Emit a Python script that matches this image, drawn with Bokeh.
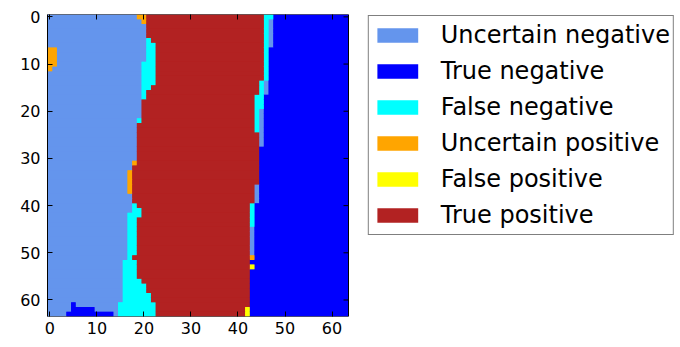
import numpy as np
from bokeh.plotting import figure
from bokeh.models import (Range1d, FixedTicker, LinearAxis, Legend, LegendItem,
                          ColumnDataSource, LinearColorMapper)
from bokeh.embed import file_html
from bokeh.resources import INLINE

# ---- classes (legend order) ----
class_codes = ["UN", "TN", "FN", "UP", "FP", "TP"]
class_names = ["Uncertain negative", "True negative", "False negative",
               "Uncertain positive", "False positive", "True positive"]
class_colors = ["#6495ED", "#0000FF", "#00FFFF", "#FFA500", "#FFFF00", "#B22222"]

n_rows = 64
n_cols = 64
ticks = [0, 10, 20, 30, 40, 50, 60]

# ---- per-row boundaries (row 0 = top) ----
# last column of the left "uncertain negative" block
left_un_end = [18, 19, 20, 20, 20, 20, 20, 20, 20, 20,
               19, 19, 19, 19, 19, 19, 19, 19, 19, 19,
               19, 19, 18, 18, 18, 18, 18, 18, 18, 18,
               18, 17, 17, 16, 16, 16, 16, 16, 17, 17,
               17, 17, 16, 16, 16, 16, 16, 16, 16, 16,
               16, 16, 15, 15, 15, 15, 15, 15, 15, 15,
               15, 14, 14, 14]
# class of the cells between that block and the true positive block
left_edge_class = ["UP", "UP", "FN", "FN", "FN", "FN", "FN", "FN", "FN", "FN",
                   "FN", "FN", "FN", "FN", "FN", "FN", "FN", "FN", "FN", "FN",
                   "FN", "FN", "FN", "FN", "FN", "FN", "FN", "FN", "FN", "FN",
                   "FN", "UP", "FN", "UP", "UP", "UP", "UP", "UP", "FN", "FN",
                   "FN", "FN", "FN", "FN", "FN", "FN", "FN", "FN", "FN", "FN",
                   "FN", "FN", "FN", "FN", "FN", "FN", "FN", "FN", "FN", "FN",
                   "FN", "FN", "FN", "FN"]
# first and last column of the true positive block
tp_start = [21, 21, 21, 21, 21, 22, 23, 23, 23, 23,
            23, 23, 23, 23, 23, 22, 21, 21, 20, 20,
            20, 20, 20, 19, 19, 19, 19, 19, 19, 19,
            19, 19, 18, 18, 18, 18, 18, 18, 18, 18,
            19, 20, 20, 19, 19, 19, 19, 19, 19, 19,
            19, 18, 19, 19, 19, 19, 20, 21, 21, 22,
            22, 23, 23, 23]
tp_end = [45, 45, 45, 45, 45, 45, 45, 45, 45, 45,
          45, 45, 45, 45, 44, 44, 44, 43, 43, 43,
          43, 43, 43, 43, 43, 44, 44, 44, 44, 44,
          44, 44, 44, 44, 44, 44, 43, 43, 43, 43,
          42, 42, 42, 42, 42, 42, 42, 42, 42, 42,
          42, 42, 42, 42, 42, 42, 42, 42, 42, 42,
          42, 42, 41, 41]
# cells of false negative, then uncertain negative, right of the TP block
right_fn = [2, 1, 1, 1, 1, 1, 1, 1, 1, 1,
            1, 1, 1, 1, 1, 1, 1, 2, 2, 2,
            1, 1, 1, 1, 1, 0, 0, 0, 0, 0,
            0, 0, 0, 0, 0, 0, 0, 0, 0, 0,
            1, 1, 1, 1, 1, 0, 0, 0, 0, 0,
            0, 0, 0, 0, 0, 0, 0, 0, 0, 0,
            0, 0, 0, 0]
right_un = [0, 1, 1, 1, 1, 1, 1, 0, 0, 0,
            0, 0, 0, 0, 1, 1, 1, 0, 0, 0,
            1, 1, 1, 1, 1, 1, 1, 1, 0, 0,
            0, 0, 0, 0, 0, 0, 1, 1, 1, 1,
            0, 0, 0, 0, 0, 1, 1, 1, 1, 1,
            1, 0, 0, 0, 0, 0, 0, 0, 0, 0,
            0, 0, 0, 0]

# isolated patches: row, first col, last col, class
spot_row = [7, 8, 9, 10, 11, 61, 62, 63, 51, 53, 62, 63]
spot_c0 = [0, 0, 0, 0, 0, 5, 5, 4, 43, 43, 42, 42]
spot_c1 = [1, 1, 1, 1, 0, 5, 9, 13, 43, 43, 42, 42]
spot_cls = ["UP", "UP", "UP", "UP", "UP", "TN", "TN", "TN", "UP", "FP", "FP", "FP"]

# ---- build the class grid ----
grid = []
for r in range(n_rows):
    cells = ["TN"] * n_cols
    for c in range(0, left_un_end[r] + 1):
        cells[c] = "UN"
    for c in range(left_un_end[r] + 1, tp_start[r]):
        cells[c] = left_edge_class[r]
    for c in range(tp_start[r], tp_end[r] + 1):
        cells[c] = "TP"
    c = tp_end[r] + 1
    for _ in range(right_fn[r]):
        cells[c] = "FN"
        c += 1
    for _ in range(right_un[r]):
        cells[c] = "UN"
        c += 1
    grid.append(cells)
for r, c0, c1, k in zip(spot_row, spot_c0, spot_c1, spot_cls):
    for c in range(c0, c1 + 1):
        grid[r][c] = k

img = np.array([[class_codes.index(k) for k in cells] for cells in grid],
               dtype=np.float64)

# run-length encode rows into quads per class (used for legend swatches too)
quads = {k: dict(left=[], right=[], top=[], bottom=[]) for k in class_codes}
for r in range(n_rows):
    c = 0
    while c < n_cols:
        k = grid[r][c]
        e = c
        while e + 1 < n_cols and grid[r][e + 1] == k:
            e += 1
        q = quads[k]
        q["left"].append(c - 0.5)
        q["right"].append(e + 0.5)
        q["top"].append(r - 0.5)
        q["bottom"].append(r + 0.5)
        c = e + 1

FONT = "DejaVu Sans"
IMG_W = 301          # pixel width of the image area
FRAME_W = 628        # frame also holds the legend to the right of the image
FRAME_H = 302
TICK_PX = 5
x_end = -0.5 + n_cols * FRAME_W / IMG_W

p = figure(output_backend="svg", toolbar_location=None,
           frame_width=FRAME_W, frame_height=FRAME_H,
           x_range=Range1d(-0.5, x_end), y_range=Range1d(n_rows - 0.5, -0.5),
           min_border_left=47, min_border_top=14, min_border_bottom=29,
           min_border_right=0)
p.grid.visible = False
p.outline_line_color = None
p.background_fill_color = "white"
p.border_fill_color = "white"

mapper = LinearColorMapper(palette=class_colors, low=-0.5, high=5.5)
p.image(image=[img], x=-0.5, y=-0.5, dw=n_cols, dh=n_rows,
        color_mapper=mapper)

renderers = []
for k, col in zip(class_codes, class_colors):
    rr = p.quad(left="left", right="right", top="top", bottom="bottom",
                source=ColumnDataSource(quads[k]),
                fill_color=col, line_color=None)
    renderers.append(rr)

# frame of the image and inward ticks on its right edge
p.quad(left=[-0.5], right=[n_cols - 0.5], top=[-0.5], bottom=[n_rows - 0.5],
       fill_color=None, line_color="black", line_width=1)
tick_units = TICK_PX * (x_end + 0.5) / FRAME_W
p.segment(x0=[n_cols - 0.5] * len(ticks), x1=[n_cols - 0.5 - tick_units] * len(ticks),
          y0=ticks, y1=ticks, line_color="black", line_width=1)

def style_axis(ax, show_labels, standoff, line=True):
    ax.ticker = FixedTicker(ticks=ticks)
    ax.major_tick_in = TICK_PX
    ax.major_tick_out = 0
    ax.minor_tick_line_color = None
    ax.axis_line_color = "black" if line else None
    ax.major_tick_line_color = "black"
    ax.major_label_text_font = FONT
    ax.major_label_text_font_size = "16px"
    ax.major_label_text_color = "black"
    ax.major_label_standoff = standoff
    if not show_labels:
        ax.major_label_overrides = {t: "" for t in ticks}
        ax.major_label_standoff = 0

for ax in p.xaxis:
    style_axis(ax, True, 5, line=False)
for ax in p.yaxis:
    style_axis(ax, True, 7)

top_ax = LinearAxis()
style_axis(top_ax, False, 0, line=False)
p.add_layout(top_ax, "above")

legend = Legend(items=[LegendItem(label=n, renderers=[r])
                       for n, r in zip(class_names, renderers)],
                location="top_right")
legend.label_text_font = FONT
legend.label_text_font_size = "24px"
legend.label_text_color = "black"
legend.glyph_width = 51
legend.glyph_height = 18
legend.label_height = 32
legend.label_standoff = 18
legend.spacing = 4
legend.padding = 3
legend.margin = 1
legend.border_line_color = "black"
legend.border_line_width = 1
legend.background_fill_alpha = 1
p.add_layout(legend)

open("out.html", "w").write(file_html(p, INLINE))
